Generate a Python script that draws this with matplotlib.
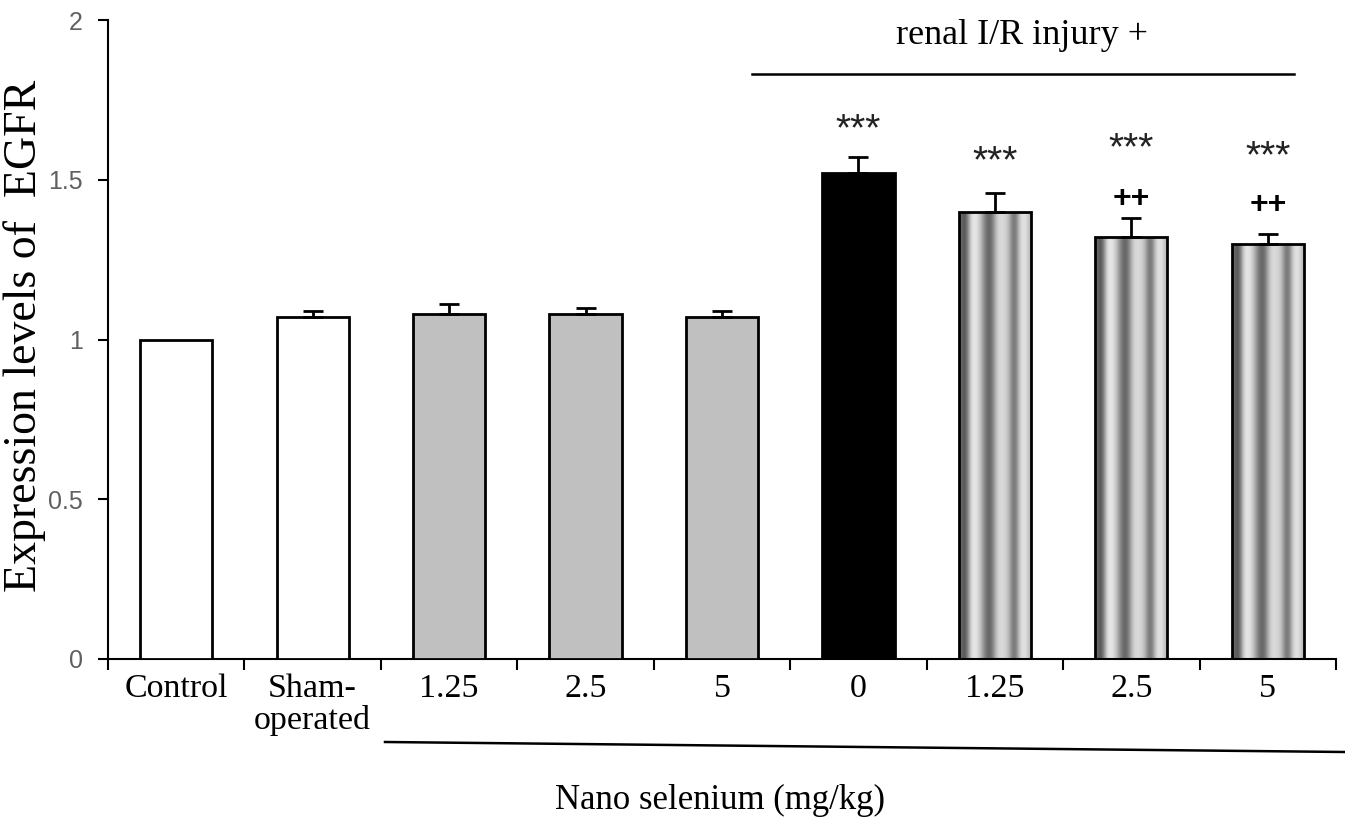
import numpy as np
import matplotlib.pyplot as plt
from matplotlib.patches import Rectangle
from matplotlib.lines import Line2D

labels = ['Control', 'Sham-\noperated', '1.25', '2.5', '5', '0', '1.25', '2.5', '5']
means = [1.00, 1.07, 1.08, 1.08, 1.07, 1.52, 1.40, 1.32, 1.30]
errs = [0.0, 0.02, 0.03, 0.02, 0.02, 0.05, 0.06, 0.06, 0.03]
styles = ['white', 'white', 'grey', 'grey', 'grey', 'black', 'stripe', 'stripe', 'stripe']
stars = ['', '', '', '', '', '***', '***', '***', '***']
star_y = [0, 0, 0, 0, 0, 1.655, 1.555, 1.595, 1.57]
plus = ['', '', '', '', '', '', '', '++', '++']
plus_y = [0, 0, 0, 0, 0, 0, 0, 1.44, 1.42]

# grey levels across one striped bar (left -> right)
stripe = [0.45, 0.3, 0.5, 0.85, 0.92, 0.85, 0.7, 0.5, 0.38, 0.45, 0.7, 0.85,
          0.85, 0.82, 0.7, 0.45, 0.5, 0.8, 0.9, 0.85, 0.7]

serif = 'Liberation Serif'
sans = 'Liberation Sans'

fig = plt.figure(figsize=(13.45, 8.36), dpi=100)
ax = fig.add_axes([108/1345, 1-659/836, (1336-108)/1345, (659-20)/836])

x = np.arange(len(means))
w = 0.53
fills = {'white': 'white', 'grey': '#c0c0c0', 'black': 'black', 'stripe': 'none'}
for i in x:
    st = styles[i]
    r = Rectangle((i - w/2, 0), w, means[i], facecolor=fills[st],
                  edgecolor='black', linewidth=2, zorder=3)
    ax.add_patch(r)
    if st == 'stripe':
        im = ax.imshow(np.array([stripe]), cmap='gray', vmin=0, vmax=1,
                       extent=(i - w/2, i + w/2, 0, means[i]), aspect='auto',
                       interpolation='bicubic', zorder=2)
        im.set_clip_path(r)
    if errs[i] > 0:
        ax.errorbar(i, means[i], yerr=[[0], [errs[i]]], fmt='none', ecolor='black',
                    elinewidth=2, capsize=7, capthick=2, zorder=4)
    if stars[i]:
        ax.text(i, star_y[i], stars[i], ha='center', va='center', fontsize=28,
                family=sans, color='#222222')
    if plus[i]:
        ax.text(i, plus_y[i], plus[i], ha='center', va='center', fontsize=23,
                family=sans, fontweight='bold')

ax.set_xlim(-0.5, 8.5)
ax.set_ylim(0, 2)
ax.spines['top'].set_visible(False)
ax.spines['right'].set_visible(False)
for s in ['left', 'bottom']:
    ax.spines[s].set_linewidth(1.5)

ax.set_yticks([0, 0.5, 1, 1.5, 2])
ax.set_yticklabels(['0', '0.5', '1', '1.5', '2'])
ax.tick_params(axis='y', length=7, width=1.5, pad=11, labelsize=18, labelcolor='#606060')
for t in ax.get_yticklabels():
    t.set_family(sans)

ax.set_xticks(np.arange(-0.5, 9, 1))
ax.set_xticklabels([])
ax.tick_params(axis='x', length=8, width=1.5)
for i, lab in enumerate(labels):
    ax.text(i, -0.045, lab, ha='center', va='top', fontsize=24.5, family=serif,
            linespacing=1.05, transform=ax.transData, clip_on=False)

ax.set_ylabel('Expression levels of  EGFR', fontsize=33, family=serif)
ax.yaxis.set_label_coords(-62/1228, 0.505)
fig.text(720/1345, 1-800/836, 'Nano selenium (mg/kg)', ha='center', va='center',
         fontsize=25, family=serif)

# group lines
ax.plot([4.22, 8.19], [1.83, 1.83], color='black', lw=1.8, clip_on=False)
ax.text(6.2, 1.95, 'renal I/R injury +', ha='center', va='center', fontsize=26,
        family=serif)
fig.add_artist(Line2D([385/1345, 1.0], [1-742/836, 1-752/836], color='black', lw=1.8))

fig.savefig('out.png', dpi=100)
